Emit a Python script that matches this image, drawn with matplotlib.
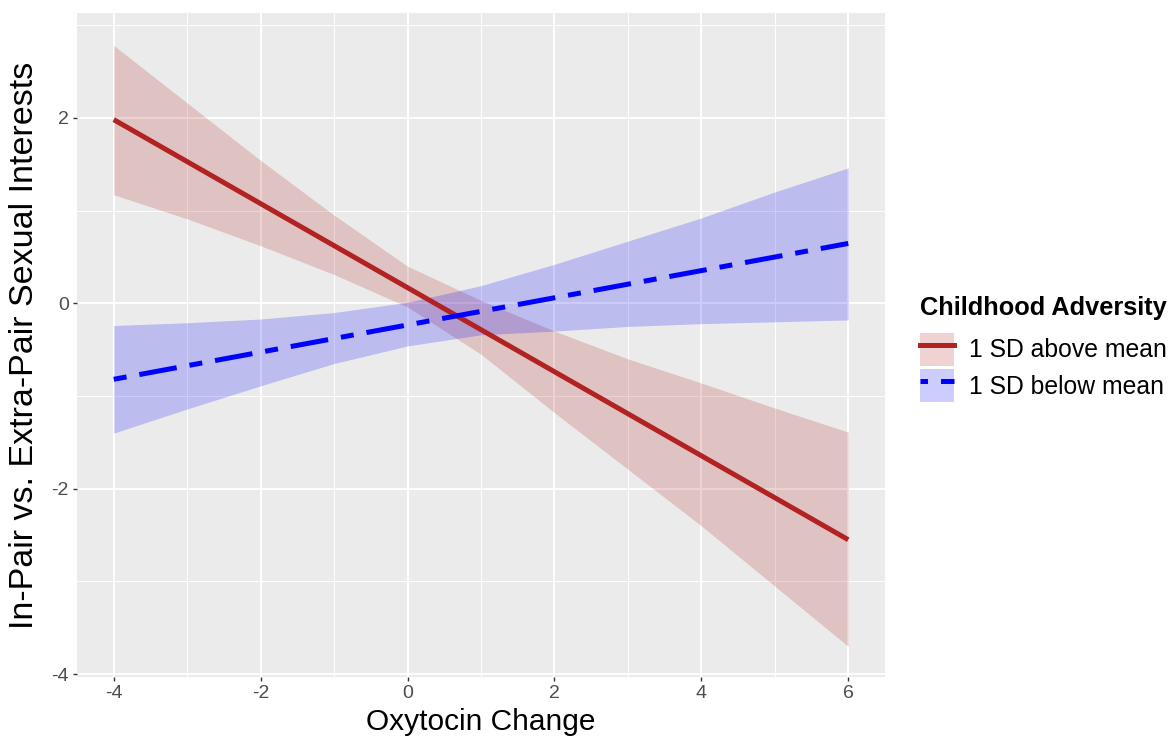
import matplotlib
matplotlib.use('Agg')
import matplotlib.pyplot as plt
from matplotlib.patches import Patch
from matplotlib.lines import Line2D

plt.rcParams['font.family'] = ['Liberation Sans', 'DejaVu Sans']
plt.rcParams['axes.unicode_minus'] = False

# Values
oxy = [-4, -3, -2, -1, 0, 1, 2, 3, 4, 5, 6]

above_lo = [1.17, 0.91, 0.62, 0.31, -0.04, -0.55, -1.18, -1.79, -2.40, -3.05, -3.70]
above_hi = [2.78, 2.16, 1.54, 0.95, 0.40, 0.03, -0.30, -0.60, -0.86, -1.13, -1.39]
below_lo = [-1.40, -1.14, -0.89, -0.65, -0.46, -0.34, -0.30, -0.25, -0.22, -0.20, -0.18]
below_hi = [-0.24, -0.21, -0.17, -0.10, 0.01, 0.19, 0.42, 0.67, 0.92, 1.20, 1.46]

line_x = [-4, 6]
above_fit = [1.98, -2.55]
below_fit = [-0.82, 0.645]

labels = ['1 SD above mean', '1 SD below mean']
red = '#B22222'
blue = '#0000FF'

fig = plt.figure(figsize=(11.74, 7.46), dpi=100)
ax = fig.add_axes([0.0656, 0.0925, 0.6882, 0.8901])
ax.set_facecolor('#EBEBEB')

# ribbons first, then lines
ax.fill_between(oxy, above_lo, above_hi, color=red, alpha=0.2, linewidth=0)
ax.fill_between(oxy, below_lo, below_hi, color=blue, alpha=0.2, linewidth=0)
lw = 3.6
twodash = (0, (2.6, 2.6, 7.6, 2.6))
ax.plot(line_x, above_fit, color=red, lw=lw, solid_capstyle='butt')
ax.plot(line_x, below_fit, color=blue, lw=lw, linestyle=twodash)

ax.set_xlim(-4.5, 6.5)
ax.set_ylim(-4.03, 3.13)
ax.set_xticks([-4, -2, 0, 2, 4, 6])
ax.set_yticks([-4, -2, 0, 2])
ax.set_xticks([-3, -1, 1, 3, 5], minor=True)
ax.set_yticks([-3, -1, 1, 3], minor=True)
ax.grid(which='major', color='white', lw=1.4)
ax.grid(which='minor', color='white', lw=0.7)
ax.set_axisbelow(True)
for s in ax.spines.values():
    s.set_visible(False)
ax.tick_params(which='major', length=3, width=1, color='#333333',
               labelsize=14, labelcolor='#4D4D4D', pad=3)
ax.tick_params(which='minor', length=0)

ax.set_xlabel('Oxytocin Change', fontsize=21.5, labelpad=4)
ax.set_ylabel('In-Pair vs. Extra-Pair Sexual Interests', fontsize=24.5, labelpad=8)

handles = [
    (Patch(facecolor=red, alpha=0.2, linewidth=0), Line2D([], [], color=red, lw=lw)),
    (Patch(facecolor=blue, alpha=0.2, linewidth=0), Line2D([], [], color=blue, lw=lw, linestyle=(0, (1.5, 2.6, 7.6, 2.6)))),
]
leg = fig.legend(handles, labels, title='Childhood Adversity', loc='upper left',
                 bbox_to_anchor=(0.7837, 0.603), frameon=False, fontsize=17.8,
                 title_fontproperties={'weight': 'bold', 'size': 18.3},
                 handlelength=1.36, handleheight=1.7, labelspacing=0.12,
                 handletextpad=0.6, borderaxespad=0, borderpad=0)
leg._legend_box.align = 'left'
leg._legend_box.sep = 9

fig.savefig('out.png', dpi=100)
